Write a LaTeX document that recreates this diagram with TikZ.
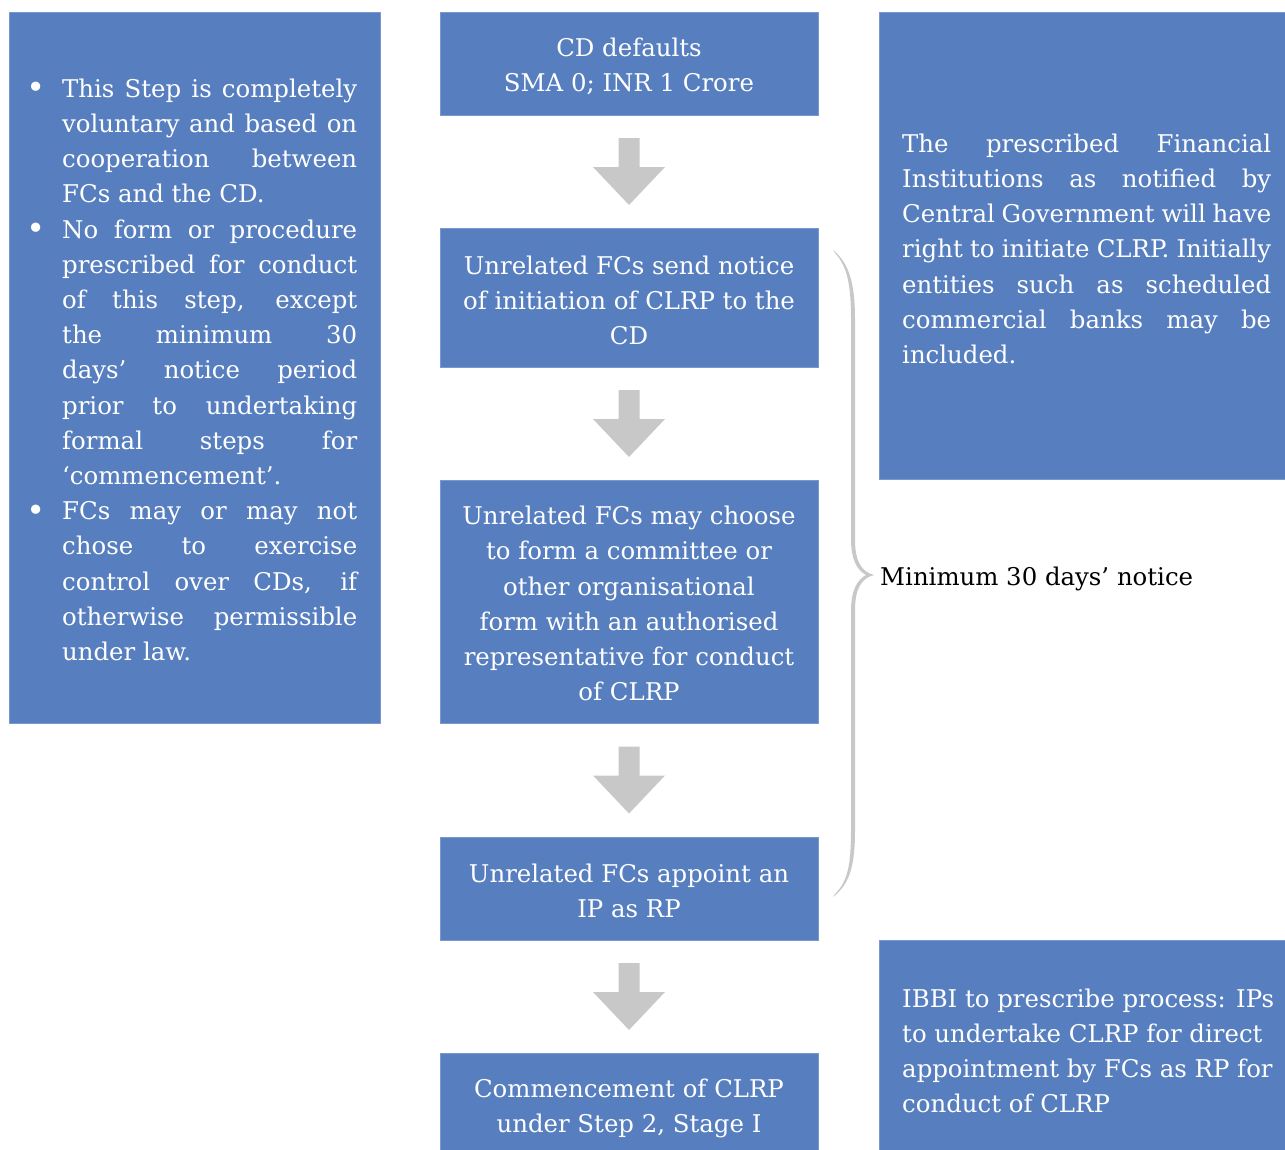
\documentclass[tikz,border=0pt]{standalone}
\usepackage{fontspec}
\usepackage{graphicx}
\setmainfont{DejaVu Serif}
\usetikzlibrary{calc}
\definecolor{boxblue}{RGB}{87,127,191}
\definecolor{boxedge}{RGB}{120,152,206}
\definecolor{arrowgray}{RGB}{200,200,200}
\newcommand\bodyfont{\fontsize{24.4}{35.2}\selectfont}
% a justified line of given width
\newcommand\jl[2]{\makebox[#1][s]{#2}}
\newcommand\bul{\llap{\raisebox{-1.5pt}{\scalebox{1.3}{\textbullet}}\hspace{17pt}}}
\tikzset{
  panel/.style={fill=boxblue, draw=boxedge, line width=0.8pt, inner sep=0pt},
  steptext/.style={inner sep=0pt, text=white, font=\bodyfont, align=center},
  bodytext/.style={inner sep=0pt, text=white, font=\bodyfont, align=left},
  blockarrow/.style={fill=arrowgray, draw=none},
}
\begin{document}
\begin{tikzpicture}[x=1pt, y=-1pt]
\useasboundingbox (0,0) rectangle (1285,1149);

% side panels
\node[panel, minimum width=371pt, minimum height=711pt] (notes) at (194.5,367.5) {};
\node[panel, minimum width=411pt, minimum height=467pt] (fi) at (1084.5,245.5) {};
\node[panel, minimum width=411pt, minimum height=220pt] (ibbi) at (1084.5,1050) {};

% process steps
\node[panel, minimum width=378pt, minimum height=103pt] (s1) at (629,63.5) {};
\node[panel, minimum width=378pt, minimum height=139pt] (s2) at (629,297.5) {};
\node[panel, minimum width=378pt, minimum height=243pt] (s3) at (629,601.5) {};
\node[panel, minimum width=378pt, minimum height=103pt] (s4) at (629,888.5) {};
\node[panel, minimum width=378pt, minimum height=107pt] (s5) at (629,1106.5) {};

\node[steptext] (t1) at ([yshift=-3pt]s1.center) {CD defaults\\SMA 0; INR 1 Crore};
\node[steptext] (t2) at ([yshift=-3pt]s2.center)
  {Unrelated FCs send notice\\of initiation of CLRP to the\\CD};
\node[steptext] (t3) at ([yshift=-2pt]s3.center)
  {Unrelated FCs may choose\\to form a committee or\\other organisational\\form with an authorised\\representative for conduct\\of CLRP};
\node[steptext] (t4) at ([yshift=-2pt]s4.center) {Unrelated FCs appoint an\\IP as RP};
\node[steptext] (t5) at ([yshift=-2pt]s5.center) {Commencement of CLRP\\under Step 2, Stage I};

% block arrows between the steps
\foreach \a/\b in {s1/s2, s2/s3, s3/s4, s4/s5}{
  \fill[blockarrow] ($(\a.south)!0.5!(\b.north)$) ++(-10.5,-33.5) -- ++(21,0) -- ++(0,29)
    -- ++(25.5,0) -- ++(-36,38) -- ++(-36,-38) -- ++(25.5,0) -- cycle;
}

% text of the side panels
\node[bodytext, anchor=north west] (notestext) at (62,78.5) {%
  \bul\jl{295pt}{This Step is completely}\\
  \jl{295pt}{voluntary and based on}\\
  \jl{295pt}{cooperation between}\\
  FCs and the CD.\\
  \bul\jl{295pt}{No form or procedure}\\
  \jl{295pt}{prescribed for conduct}\\
  \jl{295pt}{of this step, except}\\
  \jl{295pt}{the minimum 30}\\
  \jl{295pt}{days’ notice period}\\
  \jl{295pt}{prior to undertaking}\\
  \jl{295pt}{formal steps for}\\
  ‘commencement’.\\
  \bul\jl{295pt}{FCs may or may not}\\
  \jl{295pt}{chose to exercise}\\
  \jl{295pt}{control over CDs, if}\\
  \jl{295pt}{otherwise permissible}\\
  under law.};

\node[bodytext, anchor=north west] (fitext) at (902,133.5) {%
  \jl{369pt}{The prescribed Financial}\\
  \jl{369pt}{Institutions as notified by}\\
  \jl{369pt}{Central Government will have}\\
  \jl{369pt}{right to initiate CLRP. Initially}\\
  \jl{369pt}{entities such as scheduled}\\
  \jl{369pt}{commercial banks may be}\\
  included.};

\node[bodytext, anchor=north west] (ibbitext) at (902,988.5) {%
  IBBI to prescribe process: IPs\\
  to undertake CLRP for direct\\
  appointment by FCs as RP for\\
  conduct of CLRP};

% tapered brace over steps 2 to 4
\fill[arrowgray]
  (833,250) .. controls (850,264) and (855,285) .. (855,320) -- (855,540)
  .. controls (855,562) and (862,572) .. (874,575)
  .. controls (862,578) and (855,588) .. (855,610) -- (855,830)
  .. controls (855,865) and (850,884) .. (833,897)
  -- (835,894) .. controls (848,881) and (851,864) .. (851,830) -- (851,612)
  .. controls (851,590) and (857,580) .. (866,575)
  .. controls (857,570) and (851,560) .. (851,538) -- (851,320)
  .. controls (851,287) and (848,267) .. (835,253) -- cycle;
\node[inner sep=0pt, anchor=base west, font=\bodyfont] (notice) at (880,585)
  {Minimum 30 days’ notice};
\end{tikzpicture}
\end{document}
